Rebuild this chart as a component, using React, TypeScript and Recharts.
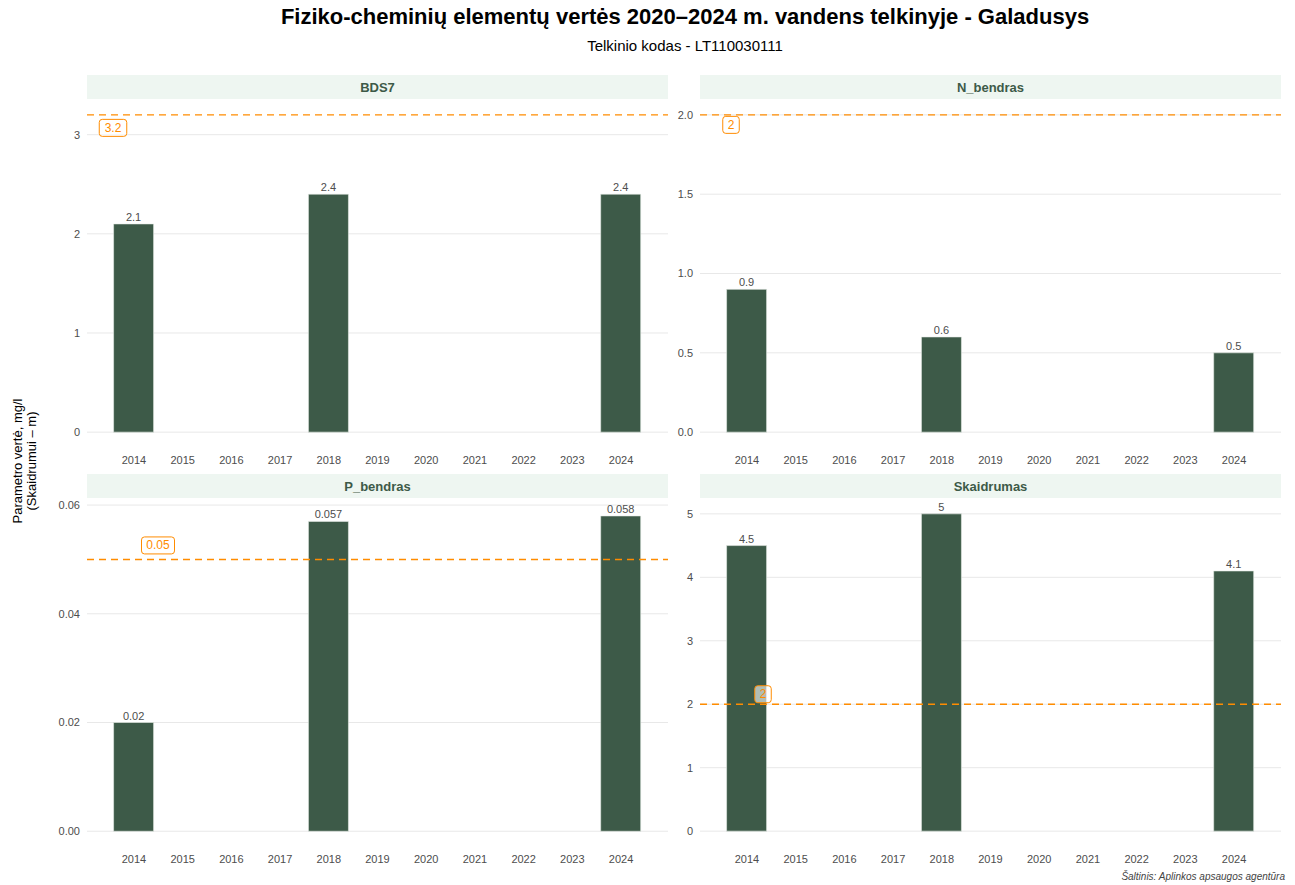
import React from 'react';
import { BarChart, Bar, XAxis, YAxis, CartesianGrid, ReferenceLine, LabelList } from 'recharts';

const years = ['2014', '2015', '2016', '2017', '2018', '2019', '2020', '2021', '2022', '2023', '2024'];

const bds7 = [2.1, null, null, null, 2.4, null, null, null, null, null, 2.4];
const nBendras = [0.9, null, null, null, 0.6, null, null, null, null, null, 0.5];
const pBendras = [0.02, null, null, null, 0.057, null, null, null, null, null, 0.058];
const skaidrumas = [4.5, null, null, null, 5, null, null, null, null, null, 4.1];

const bds7Ticks = [0, 1, 2, 3];
const nTicks = [0, 0.5, 1, 1.5, 2];
const pTicks = [0, 0.02, 0.04, 0.06];
const sTicks = [0, 1, 2, 3, 4, 5];

const BAR = '#3d5a48';
const ORANGE = '#ff8c00';
const FONT = '"Liberation Sans", Arial, Helvetica, sans-serif';

const PLOT_W = 581;
const PLOT_H = 349;
const Y_AXIS_W = 40;
const LEFT_GAP = 7;
const X_AXIS_H = 25;

function ThresholdTag(props: any) {
  const { viewBox, text, dx, dy } = props;
  if (!viewBox) return null;
  const w = 5.5 * text.length + 11;
  const h = 17;
  const cx = viewBox.x + dx;
  const cy = viewBox.y + dy;
  return (
    <g>
      <rect x={cx - w / 2} y={cy - h / 2} width={w} height={h} rx={3} ry={3}
        fill="rgba(255,255,255,0.6)" stroke={ORANGE} strokeWidth={1} />
      <text x={cx} y={cy + 4} textAnchor="middle" fontSize={12} fill={ORANGE} fontFamily={FONT}>{text}</text>
    </g>
  );
}

interface PanelProps {
  title: string;
  values: (number | null)[];
  ticks: number[];
  domain: [number, number];
  decimals: number;
  threshold: number;
  tagDx: number;
  tagDy: number;
  left: number;
  top: number;
}

function Panel({ title, values, ticks, domain, decimals, threshold, tagDx, tagDy, left, top }: PanelProps) {
  const data = years.map((y, i) => ({ year: y, value: values[i] }));
  const chartLeft = left - Y_AXIS_W - LEFT_GAP;
  return (
    <>
      <div style={{
        position: 'absolute', left, top: top - 24, width: PLOT_W, height: 24,
        background: '#eef6f1', color: BAR, fontWeight: 'bold', fontSize: 13,
        display: 'flex', alignItems: 'center', justifyContent: 'center', fontFamily: FONT,
      }}>{title}</div>
      <div style={{ position: 'absolute', left: chartLeft, top }}>
        <BarChart width={PLOT_W + Y_AXIS_W + LEFT_GAP} height={PLOT_H + X_AXIS_H} data={data}
          margin={{ top: 0, right: 0, bottom: 0, left: LEFT_GAP }}>
          <CartesianGrid vertical={false} syncWithTicks stroke="#e8e8e8" />
          <XAxis dataKey="year" axisLine={false} tickLine={false} tickSize={0} tickMargin={8}
            height={X_AXIS_H} interval={0} padding={{ left: 22.6, right: 22.6 }}
            tick={{ fontSize: 11, fill: '#4d4d4d', fontFamily: FONT }} />
          <YAxis type="number" domain={domain} ticks={ticks} allowDataOverflow axisLine={false}
            tickLine={false} tickSize={0} tickMargin={7} width={Y_AXIS_W}
            tickFormatter={(v: number) => v.toFixed(decimals)}
            tick={{ fontSize: 11, fill: '#4d4d4d', fontFamily: FONT }} />
          <Bar dataKey="value" fill={BAR} stroke="#e9efe9" strokeWidth={0.6} barSize={40} isAnimationActive={false}>
            <LabelList dataKey="value" position="top" offset={3}
              formatter={(v: any) => (v == null ? '' : String(v))}
              style={{ fontSize: 11, fill: '#4d4d4d', fontFamily: FONT }} />
          </Bar>
          <ReferenceLine y={threshold} stroke={ORANGE} strokeWidth={1.4} strokeDasharray="7 5"
            label={<ThresholdTag text={String(threshold)} dx={tagDx} dy={tagDy} />} />
        </BarChart>
      </div>
    </>
  );
}

export default function App() {
  return (
    <div style={{ position: 'absolute', left: 0, top: 0, width: 1295, height: 885, background: '#fff', fontFamily: FONT }}>
      <div style={{ position: 'absolute', left: 0, top: 4, width: 1370, textAlign: 'center', fontSize: 22, fontWeight: 'bold', color: '#000' }}>
        Fiziko-cheminių elementų vertės 2020–2024 m. vandens telkinyje - Galadusys
      </div>
      <div style={{ position: 'absolute', left: 0, top: 37, width: 1370, textAlign: 'center', fontSize: 15, color: '#000' }}>
        Telkinio kodas - LT110030111
      </div>
      <div style={{
        position: 'absolute', left: 25, top: 461, width: 300, transform: 'translate(-50%, -50%) rotate(-90deg)',
        textAlign: 'center', fontSize: 13, lineHeight: '14px', color: '#000',
      }}>
        Parametro vertė, mg/l<br />(Skaidrumui – m)
      </div>
      <Panel title="BDS7" values={bds7} ticks={bds7Ticks} domain={[-0.16, 3.36]} decimals={0}
        threshold={3.2} tagDx={26} tagDy={13} left={87} top={99} />
      <Panel title="N_bendras" values={nBendras} ticks={nTicks} domain={[-0.1, 2.1]} decimals={1}
        threshold={2} tagDx={31} tagDy={10} left={700} top={99} />
      <Panel title="P_bendras" values={pBendras} ticks={pTicks} domain={[-0.0029, 0.0613]} decimals={2}
        threshold={0.05} tagDx={71} tagDy={-14} left={87} top={498} />
      <Panel title="Skaidrumas" values={skaidrumas} ticks={sTicks} domain={[-0.25, 5.25]} decimals={0}
        threshold={2} tagDx={63} tagDy={-10} left={700} top={498} />
      <div style={{ position: 'absolute', right: 10, top: 871, fontSize: 10, fontStyle: 'italic', color: '#444' }}>
        Šaltinis: Aplinkos apsaugos agentūra
      </div>
    </div>
  );
}
